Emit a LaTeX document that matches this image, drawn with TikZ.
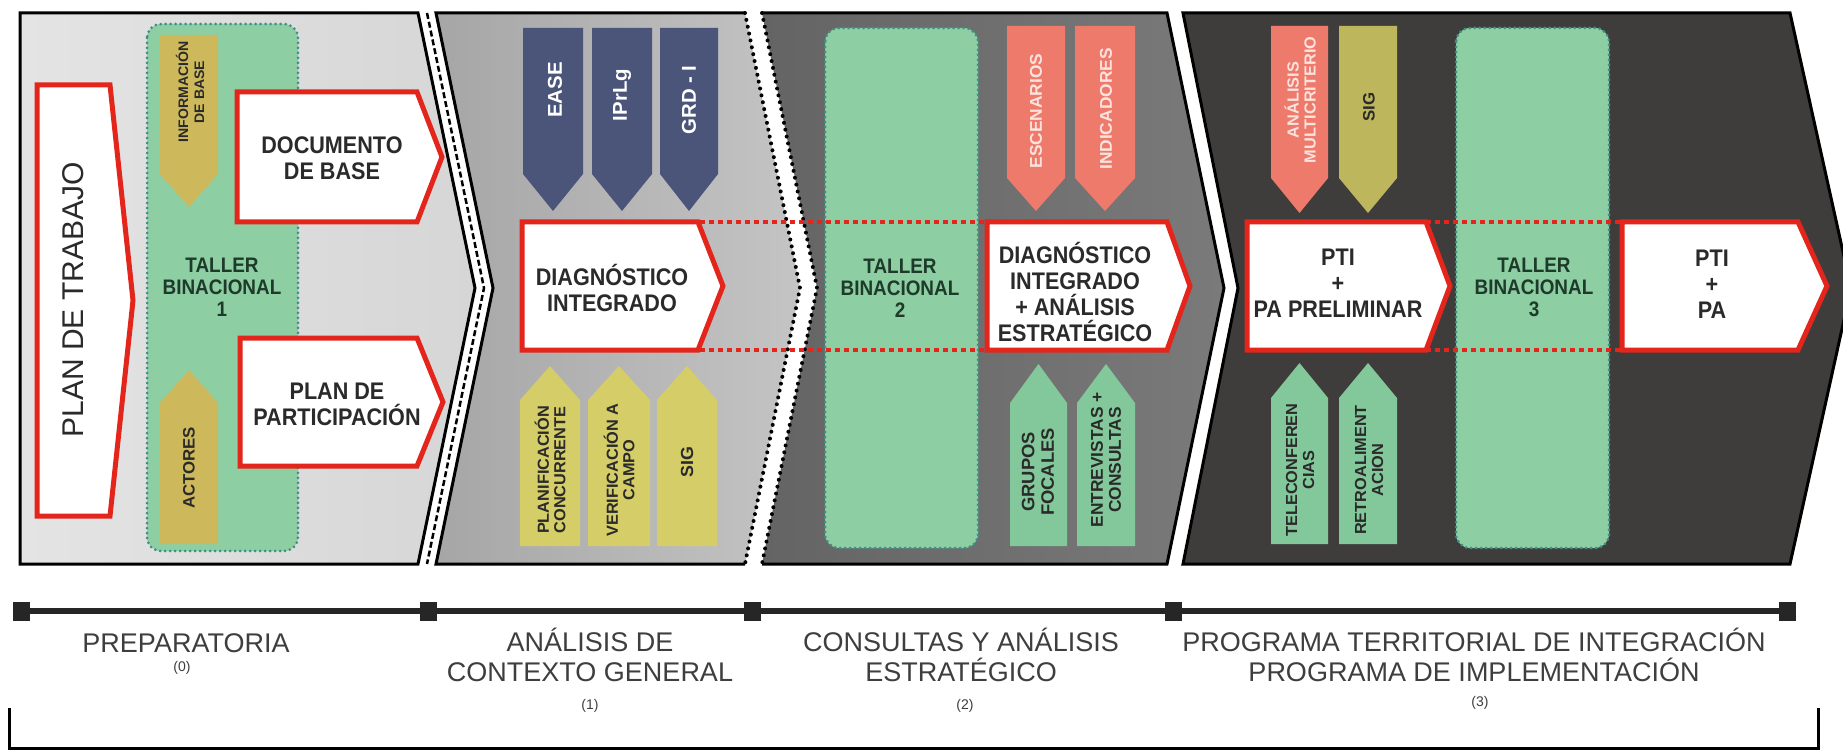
\documentclass[tikz,border=0pt]{standalone}
\usepackage{fontspec}
\setmainfont{Liberation Sans}
\newfontfamily\condf[FakeStretch=0.9]{Liberation Sans}
\newfontfamily\rotf[FakeStretch=1.02]{Liberation Sans}
\newcommand{\fsz}[2]{\fontsize{#1}{#2}\selectfont}
\definecolor{pone}{HTML}{E4E4E4}
\definecolor{ponr}{HTML}{D6D6D6}
\definecolor{ptwol}{HTML}{A6A6A6}
\definecolor{ptwor}{HTML}{C4C4C4}
\definecolor{pthrl}{HTML}{646464}
\definecolor{pthrr}{HTML}{7A7A7A}
\definecolor{pfour}{HTML}{3F3D3C}
\definecolor{tgreen}{HTML}{8DCEA2}
\definecolor{tborder}{HTML}{3E8F88}
\definecolor{ochre}{HTML}{CDB95C}
\definecolor{yel}{HTML}{D4CD68}
\definecolor{navy}{HTML}{4B5479}
\definecolor{salmon}{HTML}{EE7A6C}
\definecolor{olive}{HTML}{BDB65C}
\definecolor{mint}{HTML}{82C89A}
\definecolor{rred}{HTML}{E3251C}
\definecolor{txt}{HTML}{2A2A2A}
\definecolor{tallerc}{HTML}{1E3A2A}
\definecolor{labc}{HTML}{3E3E3E}
\definecolor{lightt}{HTML}{FCE3DD}
\newcommand{\ptag}[5]{\draw[bigarrow] (#1,#2) -- (#3,#2) -- (#5,{(#2+#4)/2}) -- (#3,#4) -- (#1,#4) -- cycle;}
\newcommand{\vtag}[6]{\fill[#1] (#2,#4) -- (#3,#4) -- (#3,#5) -- ({(#2+#3)/2},#6) -- (#2,#5) -- cycle;}
\begin{document}
\begin{tikzpicture}[x=1pt,y=-1pt,
  bigarrow/.style={draw=rred,fill=white,line width=5pt,line join=miter},
  panelline/.style={draw=black,line width=3pt,line join=miter},
  dotline/.style={draw=black,line width=4pt,dash pattern=on 0pt off 7pt,line cap=round},
  reddots/.style={draw=rred,line width=4pt,dash pattern=on 5pt off 4pt},
  taller/.style={fill=tgreen,draw=tborder,line width=3pt,dash pattern=on 0pt off 5pt,line cap=round,rounded corners=14pt},
  bigtxt/.style={font=\condf\bfseries\fsz{24}{26},text=txt,align=center,inner sep=0pt},
  tallertxt/.style={font=\condf\bfseries\fsz{21}{22},text=tallerc,align=center,inner sep=0pt},
  rot/.style={rotate=90,align=center,inner sep=0pt},
  phase/.style={font=\fsz{27}{30},text=labc,align=center,inner sep=0pt},
  phnum/.style={font=\fsz{14}{15},text=labc,inner sep=0pt},
  marker/.style={fill=black!85,minimum width=17pt,minimum height=19pt,inner sep=0pt}]
\useasboundingbox (0,0) rectangle (1843,751);
\fill[white] (0,0) rectangle (1843,751);
\begin{scope}
\clip (0,0) rectangle (1843,751);
% panel 1
\shade[left color=pone,right color=ponr] (20,13) -- (418,13) -- (475,288) -- (418,564) -- (20,564) -- cycle;
\draw[panelline] (20,13) -- (418,13) -- (475,288) -- (418,564) -- (20,564) -- cycle;
\draw[line width=2.5pt,dash pattern=on 6pt off 3pt] (427,13) -- (484,288) -- (427,564);
% panel 2
\shade[left color=ptwol,right color=ptwor] (436,13) -- (745,13) -- (800,288) -- (745,564) -- (436,564) -- (493,288) -- cycle;
\draw[panelline] (745,13) -- (436,13) -- (493,288) -- (436,564) -- (745,564);
\draw[dotline] (745,13) -- (800,288) -- (745,564);
% panel 3
\shade[left color=pthrl,right color=pthrr] (762,13) -- (1167,13) -- (1224,288) -- (1167,564) -- (762,564) -- (817,288) -- cycle;
\draw[panelline] (762,13) -- (1167,13) -- (1224,288) -- (1167,564) -- (762,564);
\draw[dotline] (762,13) -- (817,288) -- (762,564);
% panel 4
\fill[pfour] (1183,13) -- (1790,13) -- (1851,288) -- (1790,564) -- (1183,564) -- (1238,288) -- cycle;
\draw[panelline] (1183,13) -- (1790,13) -- (1851,288) -- (1790,564) -- (1183,564) -- (1238,288) -- cycle;
\end{scope}
% talleres
\draw[taller] (147,24) rectangle (298,551);
\draw[taller] (825,28) rectangle (978,548);
\draw[taller] (1456,28) rectangle (1609,548);
% small arrows
\vtag{ochre}{160}{218}{35}{174}{207}
\vtag{ochre}{160}{218}{544}{403}{370}
\vtag{navy}{523}{583}{28}{174}{211}
\vtag{navy}{592}{652}{28}{174}{211}
\vtag{navy}{660}{718}{28}{174}{211}
\vtag{yel}{520}{580}{546}{400}{366}
\vtag{yel}{588}{650}{546}{400}{366}
\vtag{yel}{657}{717}{546}{400}{366}
\vtag{salmon}{1007}{1065}{26}{178}{211}
\vtag{salmon}{1075}{1135}{26}{178}{211}
\vtag{mint}{1010}{1067}{546}{403}{364}
\vtag{mint}{1077}{1135}{546}{403}{364}
\vtag{salmon}{1271}{1328}{26}{178}{213}
\vtag{olive}{1339}{1397}{26}{178}{213}
\vtag{mint}{1271}{1328}{544}{398}{363}
\vtag{mint}{1339}{1397}{544}{398}{363}
% red dotted guides
\draw[reddots] (700,222) -- (987,222);
\draw[reddots] (700,350) -- (987,350);
\draw[reddots] (1426,222) -- (1622,222);
\draw[reddots] (1426,350) -- (1622,350);
% big arrows
\ptag{37}{85}{110}{516}{133}
\ptag{237}{92}{417}{222}{442}
\ptag{240}{338}{417}{466}{443}
\ptag{522}{222}{698}{350}{723}
\ptag{987}{222}{1167}{350}{1190}
\ptag{1247}{222}{1426}{350}{1450}
\ptag{1622}{222}{1798}{350}{1827}
% big texts
\node[rot,font=\fsz{30}{32},text=txt] (tplan) at (73,300) {PLAN DE TRABAJO};
\node[bigtxt] (tdoc) at (332,158) {DOCUMENTO\\DE BASE};
\node[bigtxt] (tpart) at (337,404) {PLAN DE\\PARTICIPACIÓN};
\node[tallertxt] (tt1) at (222,287) {TALLER\\BINACIONAL\\1};
\node[bigtxt] (tdiag1) at (612,288) {DIAGNÓSTICO\\INTEGRADO};
\node[tallertxt] (tt2) at (900,288) {TALLER\\BINACIONAL\\2};
\node[bigtxt] (tdiag2) at (1075,292) {DIAGNÓSTICO\\INTEGRADO\\+ ANÁLISIS\\ESTRATÉGICO};
\node[bigtxt] (tptip) at (1338,283) {PTI\\+\\PA PRELIMINAR};
\node[tallertxt] (tt3) at (1534,287) {TALLER\\BINACIONAL\\3};
\node[bigtxt] (tpti) at (1712,284) {PTI\\+\\PA};
% rotated labels
\node[rot,font=\rotf\bfseries\fsz{13.8}{16},text=txt] (rinfo) at (190,92) {INFORMACIÓN\\DE BASE};
\node[rot,font=\rotf\bfseries\fsz{16.5}{17},text=txt] (ract) at (189,468) {ACTORES};
\node[rot,font=\rotf\bfseries\fsz{20}{21},text=white] (rease) at (555,90) {EASE};
\node[rot,font=\rotf\bfseries\fsz{20}{21},text=white] (ripr) at (622,95) {IPrLg};
\node[rot,font=\rotf\bfseries\fsz{20}{21},text=white] (rgrd) at (689,100) {GRD - I};
\node[rot,font=\rotf\bfseries\fsz{16}{16.5},text=txt] (rplan) at (550,470) {PLANIFICACIÓN\\CONCURRENTE};
\node[rot,font=\rotf\bfseries\fsz{16}{16.5},text=txt] (rver) at (619,470) {VERIFICACIÓN A\\CAMPO};
\node[rot,font=\rotf\bfseries\fsz{17.5}{18},text=txt] (rsig) at (687,462) {SIG};
\node[rot,font=\rotf\bfseries\fsz{17}{18},text=lightt] (resc) at (1036,111) {ESCENARIOS};
\node[rot,font=\rotf\bfseries\fsz{17}{18},text=lightt] (rind) at (1106,109) {INDICADORES};
\node[rot,font=\rotf\bfseries\fsz{18}{19.5},text=txt] (rgru) at (1038,472) {GRUPOS\\FOCALES};
\node[rot,font=\rotf\bfseries\fsz{17}{18},text=txt] (rent) at (1106,460) {ENTREVISTAS +\\CONSULTAS};
\node[rot,font=\rotf\bfseries\fsz{16}{17},text=lightt] (ram) at (1300,100) {ANÁLISIS\\MULTICRITERIO};
\node[rot,font=\rotf\bfseries\fsz{16.5}{17},text=txt] (rsig2) at (1369,107) {SIG};
\node[rot,font=\rotf\bfseries\fsz{16}{17},text=txt] (rtel) at (1300,470) {TELECONFEREN\\CIAS};
\node[rot,font=\rotf\bfseries\fsz{16}{17},text=txt] (rret) at (1369,470) {RETROALIMENT\\ACION};
% timeline
\node[marker] (m1) at (21,611) {};
\node[marker] (m2) at (428,611) {};
\node[marker] (m3) at (752,611) {};
\node[marker] (m4) at (1173,611) {};
\node[marker] (m5) at (1787,611) {};
\draw[line width=6pt,black!85] (m1.center) -- (m5.center);
\node[marker] at (m2) {};
\node[marker] at (m3) {};
\node[marker] at (m4) {};
\node[phase] (l0) at (186,643) {PREPARATORIA};
\node[phnum] (n0) at (182,668) {(0)};
\node[phase] (l1) at (590,655) {ANÁLISIS DE\\CONTEXTO GENERAL};
\node[phnum] (n1) at (590,706) {(1)};
\node[phase] (l2) at (961,655) {CONSULTAS Y ANÁLISIS\\ESTRATÉGICO};
\node[phnum] (n2) at (965,706) {(2)};
\node[phase] (l3) at (1474,655) {PROGRAMA TERRITORIAL DE INTEGRACIÓN\\PROGRAMA DE IMPLEMENTACIÓN};
\node[phnum] (n3) at (1480,703) {(3)};
% bracket
\coordinate (bl) at (9,708);
\coordinate (br) at (1818,708);
\draw[line width=3pt] (bl) -- (9,748) -- (1818,748) -- (br);
\end{tikzpicture}
\end{document}
